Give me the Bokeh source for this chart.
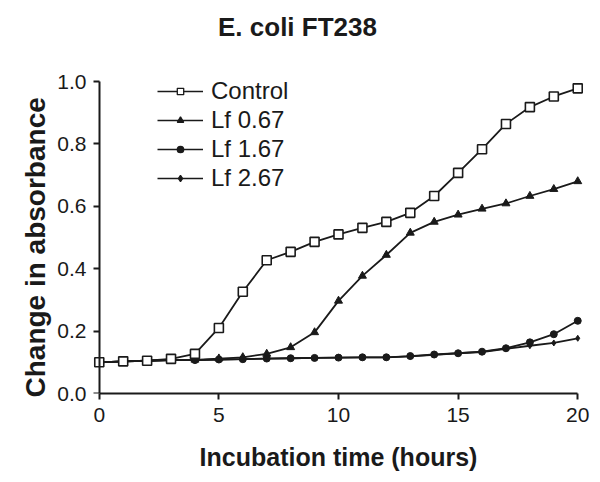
from bokeh.plotting import figure
from bokeh.models import (Range1d, FixedTicker, NumeralTickFormatter, Legend,
                          LegendItem, LinearAxis, Title)
from bokeh.embed import file_html
from bokeh.resources import INLINE

# ---- data ----
hours = list(range(21))
control = [0.100, 0.103, 0.105, 0.111, 0.127, 0.210, 0.326, 0.427, 0.454, 0.486, 0.510,
           0.531, 0.550, 0.579, 0.633, 0.707, 0.783, 0.864, 0.918, 0.952, 0.978]
lf_067 = [0.100, 0.103, 0.105, 0.107, 0.108, 0.112, 0.116, 0.127, 0.148, 0.196, 0.297,
          0.377, 0.444, 0.515, 0.550, 0.573, 0.592, 0.609, 0.633, 0.655, 0.680]
lf_167 = [0.100, 0.103, 0.105, 0.107, 0.107, 0.109, 0.110, 0.112, 0.113, 0.114, 0.115,
          0.116, 0.116, 0.120, 0.125, 0.129, 0.134, 0.145, 0.164, 0.190, 0.233]
lf_267 = [0.100, 0.103, 0.105, 0.107, 0.107, 0.109, 0.110, 0.112, 0.113, 0.114, 0.115,
          0.116, 0.116, 0.119, 0.124, 0.129, 0.133, 0.143, 0.153, 0.162, 0.177]
series_names = ["Control", "Lf 0.67", "Lf 1.67", "Lf 2.67"]
x_ticks = [0, 5, 10, 15, 20]
y_ticks = [0.0, 0.2, 0.4, 0.6, 0.8, 1.0]
title_text = "E. coli FT238"
x_label = "Incubation time (hours)"
y_label = "Change in absorbance"

FONT = "Liberation Sans"
INK = "#1a1a1a"
NAN = float("nan")

p = figure(frame_width=500, frame_height=344,
           x_range=Range1d(-0.45, 20.45), y_range=Range1d(0, 344 / 312),
           output_backend="svg", toolbar_location=None,
           min_border_left=88, min_border_right=12, min_border_top=49, min_border_bottom=89,
           x_axis_type=None, y_axis_type=None, title=title_text)
p.outline_line_color = None
p.background_fill_color = "white"
p.border_fill_color = "white"

p.title.text_font = FONT
p.title.text_font_size = "26px"
p.title.text_font_style = "bold"
p.title.text_color = INK
p.title.align = "left"
p.title.vertical_align = "bottom"
p.title.offset = 129.5
p.title.standoff = 16

def style_axis(ax, label_size):
    ax.axis_line_width = 2
    ax.axis_line_color = INK
    ax.major_tick_line_width = 2
    ax.major_tick_line_color = INK
    ax.major_tick_out = 6
    ax.major_tick_in = 0
    ax.minor_tick_line_color = None
    ax.major_label_text_font = FONT
    ax.major_label_text_font_size = "21px"
    ax.major_label_text_color = INK
    ax.axis_label_text_font = FONT
    ax.axis_label_text_font_style = "bold"
    ax.axis_label_text_font_size = label_size
    ax.axis_label_text_color = INK

# x axis at the bottom of the frame (y = 0)
xaxis = LinearAxis(ticker=FixedTicker(ticks=x_ticks), bounds=(0, 20), axis_label=x_label)
style_axis(xaxis, "25px")
xaxis.major_label_standoff = 8
xaxis.axis_label_standoff = 18
p.add_layout(xaxis, "below")

# y axis tick labels (at frame edge, no line/ticks)
ylab_axis = LinearAxis(ticker=FixedTicker(ticks=y_ticks), bounds=(0, 1.0),
                       formatter=NumeralTickFormatter(format="0.0"))
style_axis(ylab_axis, "28px")
ylab_axis.axis_line_color = None
ylab_axis.major_tick_line_color = None
ylab_axis.major_tick_out = 0
ylab_axis.major_label_standoff = 2
p.add_layout(ylab_axis, "left")

# y axis line and ticks at x = 0
yline_axis = LinearAxis(ticker=FixedTicker(ticks=y_ticks), bounds=(0, 1.0),
                        fixed_location=0)
style_axis(yline_axis, "0px")
yline_axis.major_label_text_font_size = "0px"
yline_axis.major_label_text_alpha = 0
yline_axis.major_label_standoff = 0
p.add_layout(yline_axis, "left")

# y axis title, placed along the left side
ytitle = Title(text=y_label, align="left", vertical_align="bottom", offset=-4, standoff=8,
               text_font=FONT, text_font_size="28px", text_font_style="bold",
               text_color=INK)
p.add_layout(ytitle, "left")

LW = 1.8
l4 = p.line(hours, lf_267, line_color=INK, line_width=LW)
m4 = p.scatter(hours, lf_267, marker="diamond", size=6, fill_color=INK, line_color=INK)
l3 = p.line(hours, lf_167, line_color=INK, line_width=LW)
m3 = p.scatter(hours, lf_167, marker="circle", size=7, fill_color=INK, line_color=INK)
l2 = p.line(hours, lf_067, line_color=INK, line_width=LW)
m2 = p.scatter(hours, lf_067, marker="triangle", size=8, fill_color=INK, line_color=INK)
l1 = p.line(hours, control, line_color=INK, line_width=LW)
m1 = p.scatter(hours, control, marker="square", size=9, fill_color="white",
               line_color=INK, line_width=1.6)

# legend proxies (NaN data is not drawn in the plot)
def proxy(marker, fill):
    ln = p.line([NAN], [NAN], line_color=INK, line_width=1.5)
    sc = p.scatter([NAN], [NAN], marker=marker, size=7, fill_color=fill,
                   line_color=INK, line_width=1.3)
    return [ln, sc]

legend = Legend(items=[
    LegendItem(label=series_names[0], renderers=proxy("square", "white")),
    LegendItem(label=series_names[1], renderers=proxy("triangle", INK)),
    LegendItem(label=series_names[2], renderers=proxy("circle", INK)),
    LegendItem(label=series_names[3], renderers=proxy("diamond", INK)),
], location=(69, 201))
legend.glyph_width = 46
legend.glyph_height = 16
legend.label_height = 29
legend.spacing = 0
legend.padding = 0
legend.margin = 0
legend.label_standoff = 8
legend.label_text_font = FONT
legend.label_text_font_size = "24px"
legend.label_text_color = INK
legend.border_line_color = None
legend.background_fill_alpha = 0
p.add_layout(legend, "center")

open("out.html", "w").write(file_html(p, INLINE))
